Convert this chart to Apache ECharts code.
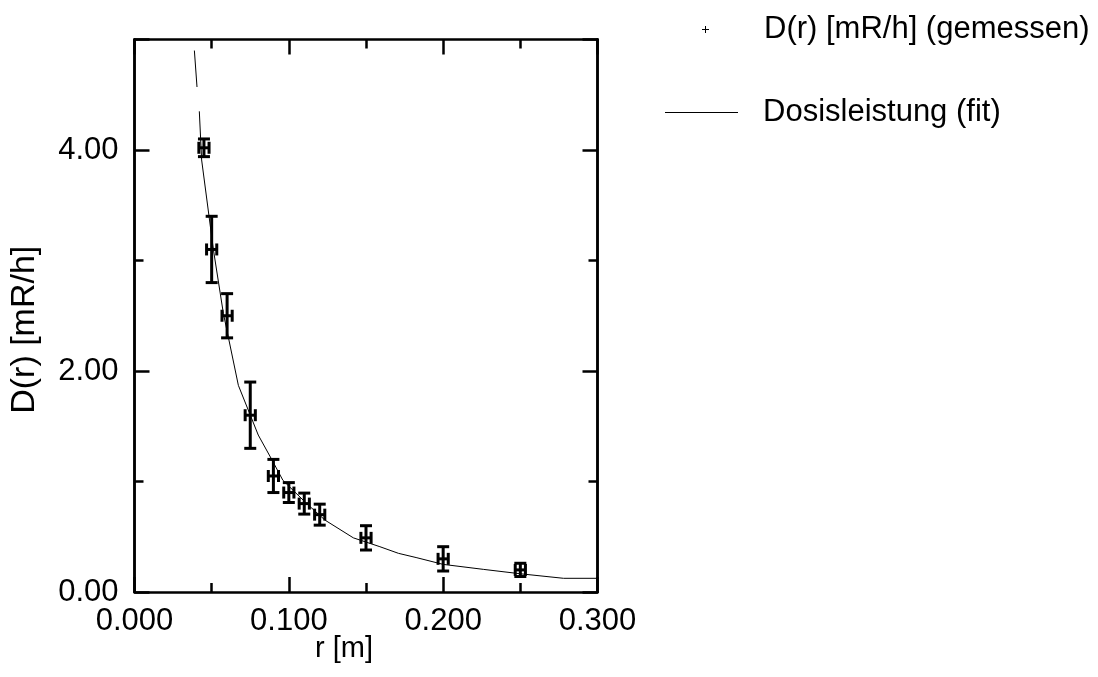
<!DOCTYPE html>
<html>
<head>
<meta charset="utf-8">
<script src="https://cdn.jsdelivr.net/npm/echarts@6/dist/echarts.min.js"></script>
<style>
  html, body { margin: 0; padding: 0; background: #fff; }
  #chart { width: 1098px; height: 677px; }
</style>
</head>
<body>
<div id="chart"></div>
<script>
// gemessene Werte
var rValues = [0.045, 0.050, 0.060, 0.075, 0.090, 0.100, 0.110, 0.120, 0.150, 0.200, 0.250];
var dValues = [4.02, 3.10, 2.50, 1.60, 1.05, 0.90, 0.80, 0.70, 0.49, 0.30, 0.20];
var dErr = [0.08, 0.30, 0.20, 0.30, 0.15, 0.09, 0.095, 0.095, 0.11, 0.11, 0.06];
var rErr = [0.0033, 0.0033, 0.0033, 0.0033, 0.0033, 0.0033, 0.0033, 0.0033, 0.0033, 0.0033, 0.0033];

// Fit-Kurve (null = Lücke)
var fitR = [0.0388, 0.0405, null, 0.0420, 0.0435, 0.0483, 0.0511, 0.0576, 0.0612, 0.0673, 0.0802, 0.0889, 0.0962,
            0.1116, 0.1235, 0.1418, 0.159, 0.171, 0.183, 0.200, 0.226, 0.250, 0.278, 0.300];
var fitD = [4.90, 4.57, null, 4.35, 3.91, 3.40, 3.10, 2.52, 2.28, 1.87, 1.42, 1.20, 1.01,
            0.80, 0.65, 0.49, 0.41, 0.35, 0.31, 0.25, 0.205, 0.165, 0.124, 0.124];

var xTicks = [0, 0.1, 0.2, 0.3];
var yTicks = [0, 2, 4];

var nameMess = 'D(r) [mR/h] (gemessen)';
var nameFit = 'Dosisleistung (fit)';

var font = 'Liberation Sans, Arial, sans-serif';

var chart = echarts.init(document.getElementById('chart'));

var messData = rValues.map(function (r, i) {
    return [r, dValues[i], dErr[i], rErr[i]];
});
var fitData = fitR.map(function (r, i) {
    return r === null ? ['-', '-'] : [r, fitD[i]];
});

function renderErr(params, api) {
    var x = api.value(0), y = api.value(1), dy = api.value(2), dx = api.value(3);
    var top = api.coord([x, y + dy]);
    var bot = api.coord([x, y - dy]);
    var lft = api.coord([x - dx, y]);
    var rgt = api.coord([x + dx, y]);
    var cap = 6;
    var st = { stroke: '#000', lineWidth: 3 };
    function ln(x1, y1, x2, y2) {
        return { type: 'line', shape: { x1: x1, y1: y1, x2: x2, y2: y2 }, style: st };
    }
    return {
        type: 'group',
        children: [
            ln(top[0], top[1], bot[0], bot[1]),
            ln(top[0] - cap, top[1], top[0] + cap, top[1]),
            ln(bot[0] - cap, bot[1], bot[0] + cap, bot[1]),
            ln(lft[0], lft[1], rgt[0], rgt[1]),
            ln(lft[0], lft[1] - cap, lft[0], lft[1] + cap),
            ln(rgt[0], rgt[1] - cap, rgt[0], rgt[1] + cap)
        ]
    };
}

var axisLineStyle = { color: '#000', width: 2.5 };

function xAxisDef(pos, showLabel) {
    return {
        type: 'value', position: pos, min: 0, max: 0.3, interval: 0.1,
        axisLine: { show: true, onZero: false, lineStyle: axisLineStyle },
        axisTick: { show: true, inside: true, length: 15, lineStyle: axisLineStyle },
        minorTick: { show: true, splitNumber: 2, length: 9, lineStyle: axisLineStyle },
        splitLine: { show: false },
        minorSplitLine: { show: false },
        axisLabel: {
            show: showLabel, color: '#000', fontSize: 31, fontFamily: font, margin: 14,
            formatter: function (v) { return xTicks.indexOf(Math.round(v * 10) / 10) >= 0 ? v.toFixed(3) : ''; }
        },
        name: showLabel ? 'r [m]' : '',
        nameLocation: 'middle',
        nameGap: 42,
        nameMoveOverlap: false,
        nameTextStyle: { color: '#000', fontSize: 29, fontFamily: font, padding: [0, 44, 0, 0] }
    };
}

function yAxisDef(pos, interval, tickLen, showLabel) {
    return {
        type: 'value', position: pos, min: 0, max: 5, interval: interval,
        axisLine: { show: true, onZero: false, lineStyle: axisLineStyle },
        axisTick: { show: true, inside: true, length: tickLen, lineStyle: axisLineStyle },
        splitLine: { show: false },
        axisLabel: {
            show: showLabel, color: '#000', fontSize: 31, fontFamily: font, margin: 16,
            formatter: function (v) { return yTicks.indexOf(v) >= 0 ? v.toFixed(2) : ''; }
        },
        name: showLabel ? 'D(r) [mR/h]' : '',
        nameLocation: 'middle',
        nameGap: 93,
        nameMoveOverlap: false,
        nameTextStyle: { color: '#000', fontSize: 34, fontFamily: font, padding: [0, 28, 0, 0] }
    };
}

var option = {
    animation: false,
    backgroundColor: '#fff',
    grid: { left: 134.5, right: 500.5, top: 39.5, bottom: 85, containLabel: false },
    legend: [
        {
            data: [{ name: nameMess, icon: 'path://M3,0 L4,0 L4,3 L7,3 L7,4 L4,4 L4,7 L3,7 L3,4 L0,4 L0,3 L3,3 Z' }],
            left: 702, top: 14, padding: 0,
            itemWidth: 7, itemHeight: 7,
            textStyle: { color: '#000', fontSize: 31, fontFamily: font, padding: [0, 0, 0, 50] },
            selectedMode: false
        },
        {
            data: [{ name: nameFit, icon: 'rect' }],
            left: 665, top: 97, padding: 0,
            itemWidth: 73, itemHeight: 1,
            textStyle: { color: '#000', fontSize: 31, fontFamily: font, padding: [0, 0, 0, 20] },
            selectedMode: false
        }
    ],
    xAxis: [xAxisDef('bottom', true), xAxisDef('top', false)],
    yAxis: [
        yAxisDef('left', 2, 15, true),
        yAxisDef('left', 1, 9, false),
        yAxisDef('right', 2, 15, false),
        yAxisDef('right', 1, 9, false)
    ],
    series: [
        {
            name: nameFit,
            type: 'line',
            data: fitData,
            showSymbol: false,
            symbol: 'none',
            connectNulls: false,
            lineStyle: { color: '#000', width: 1 },
            itemStyle: { color: '#000' },
            z: 2
        },
        {
            name: nameMess,
            type: 'custom',
            renderItem: renderErr,
            data: messData,
            encode: { x: 0, y: 1 },
            itemStyle: { color: '#000' },
            z: 3
        }
    ]
};

chart.setOption(option);
</script>
</body>
</html>
